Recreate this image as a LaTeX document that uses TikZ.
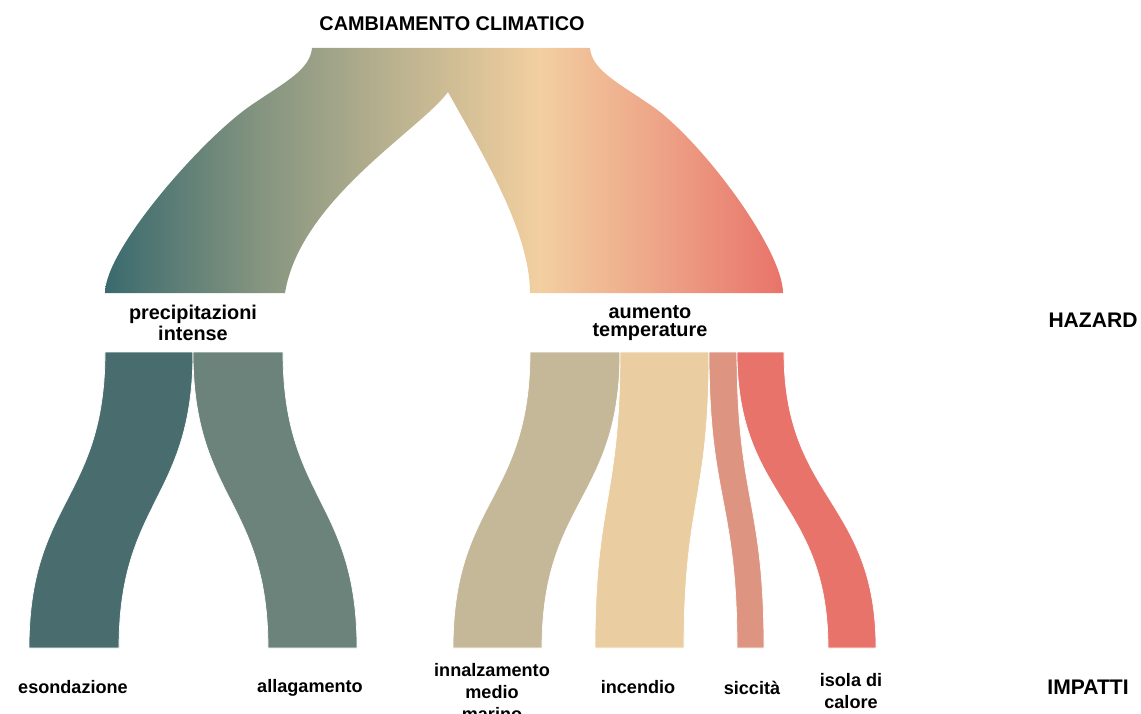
\documentclass[tikz,border=0pt]{standalone}
\usepackage{fontspec}
\setmainfont{Liberation Sans}
\usepackage{tikz}
\usetikzlibrary{positioning}
\usepackage{xcolor}
\definecolor{clteal}{HTML}{3A6A6E}
\definecolor{clsage}{HTML}{82937F}
\definecolor{clkhaki}{HTML}{B8B18F}
\definecolor{clsand}{HTML}{D2BE95}
\definecolor{clpeach}{HTML}{F2CFA0}
\definecolor{clsalmon}{HTML}{EEA88A}
\definecolor{clcoral}{HTML}{E8736A}
\definecolor{esoncol}{HTML}{496D6F}
\definecolor{allagcol}{HTML}{6B837A}
\definecolor{innalzcol}{HTML}{C4B899}
\definecolor{incendcol}{HTML}{EBCDA2}
\definecolor{siccol}{HTML}{DD9582}
\definecolor{isolacol}{HTML}{E8736A}
\pgfdeclarehorizontalshading{climate}{100bp}{color(0bp)=(clteal); color(25bp)=(clteal);
  color(36bp)=(clsage); color(46bp)=(clkhaki); color(51bp)=(clsand);
  color(57bp)=(clpeach); color(65bp)=(clsalmon); color(75bp)=(clcoral); color(100bp)=(clcoral)}

\begin{document}
\begin{tikzpicture}[
  x=0.02cm, y=-0.02cm,
  band/.style={draw=white, line width=0.4pt},
  lbl/.style={font=\fontsize{10.3}{12.5}\selectfont\bfseries, align=center, inner sep=0pt},
  hz/.style={font=\fontsize{11.3}{10}\selectfont\bfseries, align=center, inner sep=0pt},
  side/.style={font=\fontsize{12}{14}\selectfont\bfseries, inner sep=0pt},
]
  \useasboundingbox (0,0) rectangle (1141,713);

  \shade[shading=climate] (312,48) -- (590,48)
    .. controls (592,70) and (617,82) .. (652,106)
    .. controls (702,141) and (783,250) .. (783,293) -- (530,293)
    .. controls (530,230) and (480,150) .. (448,92)
    .. controls (420,130) and (300,200) .. (285,293) -- (105,293)
    .. controls (105,250) and (200,141) .. (250,106)
    .. controls (285,82) and (310,70) .. (312,48) -- cycle;

  \foreach \xa/\xb/\xc/\xd/\col in {105/193/29/119/esoncol, 193/283/268/357/allagcol,
      530/620/453/542/innalzcol, 620/709/595/684/incendcol,
      709/737/737/764/siccol, 737/784/828/876/isolacol}
    \fill[band, fill=\col] (\xa,352) .. controls (\xa,500) and (\xc,500) .. (\xc,648)
      -- (\xd,648) .. controls (\xd,500) and (\xb,500) .. (\xb,352) -- cycle;

  \node[hz] (clima) at (452,24) {CAMBIAMENTO CLIMATICO};
  \node[hz] (precip) at (193,323) {precipitazioni\\intense};
  \node[hz] (temp) at (650,323) {aumento\\temperature};
  \node[side] (hazard) at (1093,320) {HAZARD};

  \node[lbl] (esond) at (73,687) {esondazione};
  \node[lbl] (allag) at (310,688) {allagamento};
  \node[lbl] (innalz) at (492,692) {innalzamento\\medio\\marino};
  \node[lbl] (incend) at (638,687) {incendio};
  \node[lbl] (sicc) at (752,688) {siccità};
  \node[lbl] (isola) at (851,691) {isola di\\calore};
  \node[side] (impatti) at (1088,687) {IMPATTI};
\end{tikzpicture}
\end{document}
